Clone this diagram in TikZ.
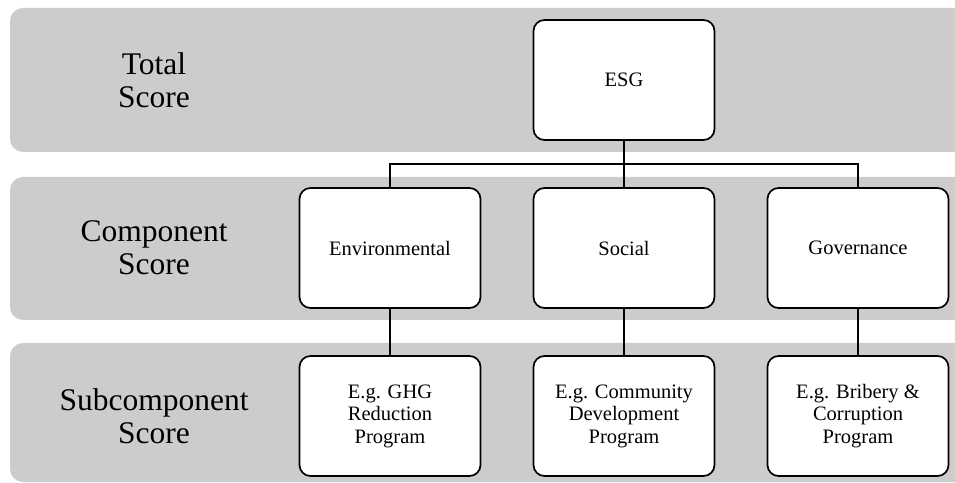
\documentclass[tikz,border=0pt]{standalone}
\usepackage{fontspec}
\setmainfont{Liberation Serif}
\usetikzlibrary{positioning}

\begin{document}
\begin{tikzpicture}[
  x=1pt, y=1pt,
  node distance=48pt and 53pt,
  link/.style={line width=1.7pt},
  block/.style={rectangle, rounded corners=11pt, draw, line width=1.7pt, fill=white,
                align=center, minimum width=181pt, minimum height=120pt,
                inner sep=4pt, outer sep=0pt, font=\fontsize{20.5}{22.5}\selectfont},
  band/.style={fill=black!20, rounded corners=13pt},
  rowtitle/.style={align=center, font=\fontsize{31.5}{33}\selectfont}
]
\useasboundingbox (0,0) rectangle (955,482);
\clip (0,0) rectangle (955,482);

% Background bands
\fill[band] (10,330) rectangle (985,474);
\fill[band] (10,162) rectangle (985,305);
\fill[band] (10,0) rectangle (985,139);

% Top level
\node[block] (esg) at (624,402) {ESG};

% Components
\node[block, below=of esg] (social) {Social};
\node[block, left=of social] (env) {Environmental};
\node[block, right=of social] (gov) {Governance};

% Subcomponents
\node[block, below=of env] (ghg) {E.g. GHG\\Reduction\\Program};
\node[block, below=of social] (comm) {E.g. Community\\Development\\Program};
\node[block, below=of gov] (brib) {E.g. Bribery \&\\Corruption\\Program};

% Row titles
\node[rowtitle] (ttotal) at (154,402) {Total\\Score};
\node[rowtitle] (tcomp) at (ttotal |- social) {Component\\Score};
\node[rowtitle] (tsub) at (ttotal |- comm) {Subcomponent\\Score};

% Connectors
\draw[link] (esg) -- (social);
\draw[link] (esg.south) -- ++(0,-24) -| (env.north);
\draw[link] (esg.south) -- ++(0,-24) -| (gov.north);
\draw[link] (env) -- (ghg);
\draw[link] (social) -- (comm);
\draw[link] (gov) -- (brib);

\end{tikzpicture}
\end{document}
